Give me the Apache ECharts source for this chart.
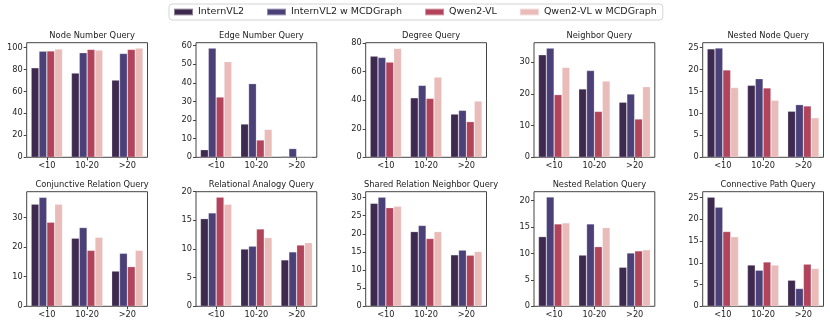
<!DOCTYPE html>
<html>
<head>
<meta charset="utf-8">
<script src="https://cdn.jsdelivr.net/npm/echarts@6/dist/echarts.min.js"></script>
<style>
  html, body { margin: 0; padding: 0; background: #fff; }
  #chart { width: 830px; height: 326px; }
</style>
</head>
<body>
<div id="chart"></div>
<script>
const categories = ['<10', '10-20', '>20']
const seriesNames = ['InternVL2', 'InternVL2 w MCDGraph', 'Qwen2-VL', 'Qwen2-VL w MCDGraph']
const colors = ['#3f2a4f', '#4b4178', '#b1435b', '#e9bbb9']

const panelTitles = [
  'Node Number Query', 'Edge Number Query', 'Degree Query', 'Neighbor Query', 'Nested Node Query',
  'Conjunctive Relation Query', 'Relational Analogy Query', 'Shared Relation Neighbor Query',
  'Nested Relation Query', 'Connective Path Query'
]

// one row per series, one value per category
const nodeNumber = [[81.5, 76.7, 70.3], [96.6, 95.2, 94.5], [96.8, 98.2, 98.2], [98.5, 97.6, 99.4]]
const edgeNumber = [[4.1, 17.9, 0.5], [58.7, 39.6, 4.7], [32.4, 9.3, 0.2], [51.4, 15.0, 0.2]]
const degree = [[70.9, 41.7, 30.3], [70.0, 50.4, 32.9], [66.7, 41.3, 25.0], [76.3, 56.2, 39.4]]
const neighbor = [[32.4, 21.6, 17.4], [34.5, 27.4, 20.0], [19.8, 14.5, 12.1], [28.4, 24.1, 22.3]]
const nestedNode = [[24.7, 16.4, 10.5], [24.9, 17.9, 12.0], [19.9, 15.8, 11.7], [15.9, 13.0, 9.0]]
const conjunctiveRelation = [[34.5, 23.0, 11.9], [36.8, 26.6, 17.9], [28.4, 18.9, 13.4], [34.5, 23.3, 18.9]]
const relationalAnalogy = [[15.3, 10.0, 8.1], [16.3, 10.5, 9.5], [19.05, 13.5, 10.7], [17.8, 12.0, 11.1]]
const sharedRelationNeighbor = [[28.4, 20.6, 14.2], [30.1, 22.3, 15.5], [27.2, 18.7, 14.1], [27.6, 20.6, 15.1]]
const nestedRelation = [[13.2, 9.7, 7.4], [20.7, 15.6, 10.1], [15.6, 11.3, 10.5], [15.8, 14.9, 10.7]]
const connectivePath = [[25.1, 9.5, 6.0], [22.8, 8.3, 4.1], [17.2, 10.2, 9.7], [16.0, 9.5, 8.7]]

const panelData = [
  nodeNumber, edgeNumber, degree, neighbor, nestedNode,
  conjunctiveRelation, relationalAnalogy, sharedRelationNeighbor, nestedRelation, connectivePath
]

// y axis limits and tick step per panel
const yMax = [104.3, 61.6, 80.3, 36.2, 26.1, 38.7, 20.0, 31.6, 21.7, 26.35]
const yStep = [20, 10, 20, 10, 5, 10, 5, 5, 5, 5]

const chart = echarts.init(document.getElementById('chart'))

const gridLefts = [26.7, 196, 365.7, 534, 702.7]
const gridTops = [42.7, 191.7]
const gridW = 120.8
const gridH = 114.6
const font = 'DejaVu Sans'

const grids = []
const xAxes = []
const yAxes = []
const titles = []
const series = []

panelData.forEach((rows, i) => {
  const row = Math.floor(i / 5)
  const col = i % 5
  const left = gridLefts[col]
  const top = gridTops[row]

  grids.push({
    left: left, top: top, width: gridW, height: gridH,
    show: true, borderColor: '#444', borderWidth: 1, containLabel: false
  })

  titles.push({
    text: panelTitles[i],
    left: left + gridW / 2,
    top: top - 15.5,
    textAlign: 'center',
    textStyle: { fontFamily: font, fontSize: 8.3, fontWeight: 'normal', color: '#222' }
  })

  const ticks = []
  for (let v = 0; v <= yMax[i] + 1e-9; v += yStep[i]) ticks.push(v)

  xAxes.push({
    type: 'category',
    gridIndex: i,
    data: categories,
    axisLine: { show: false },
    axisTick: { show: true, alignWithLabel: true, length: 3, lineStyle: { color: '#444' } },
    axisLabel: { fontFamily: font, fontSize: 8.2, color: '#222', margin: 5, interval: 0 },
    splitLine: { show: false }
  })

  yAxes.push({
    type: 'value',
    gridIndex: i,
    min: 0,
    max: yMax[i],
    axisLine: { show: false },
    axisTick: { show: true, length: 3, customValues: ticks, lineStyle: { color: '#444' } },
    axisLabel: { fontFamily: font, fontSize: 8.2, color: '#222', margin: 4, customValues: ticks },
    splitLine: { show: false }
  })

  rows.forEach((vals, s) => {
    series.push({
      type: 'bar',
      name: seriesNames[s],
      xAxisIndex: i,
      yAxisIndex: i,
      data: vals,
      barGap: '0%',
      barCategoryGap: '22%',
      itemStyle: { color: colors[s], borderColor: 'rgba(255,255,255,0.4)', borderWidth: 0.6 },
      emphasis: { disabled: true }
    })
  })
})

chart.setOption({
  animation: false,
  title: titles,
  legend: {
    data: seriesNames,
    left: 169,
    top: 4,
    icon: 'rect',
    itemWidth: 19,
    itemHeight: 6.7,
    itemGap: 22,
    padding: [3, 6, 3, 4],
    borderColor: '#d4d4d4',
    borderWidth: 1,
    borderRadius: 3,
    textStyle: { fontFamily: font, fontSize: 9.5, color: '#222' }
  },
  grid: grids,
  xAxis: xAxes,
  yAxis: yAxes,
  series: series
})

window.addEventListener('resize', () => {
  chart.resize()
})
</script>
</body>
</html>
